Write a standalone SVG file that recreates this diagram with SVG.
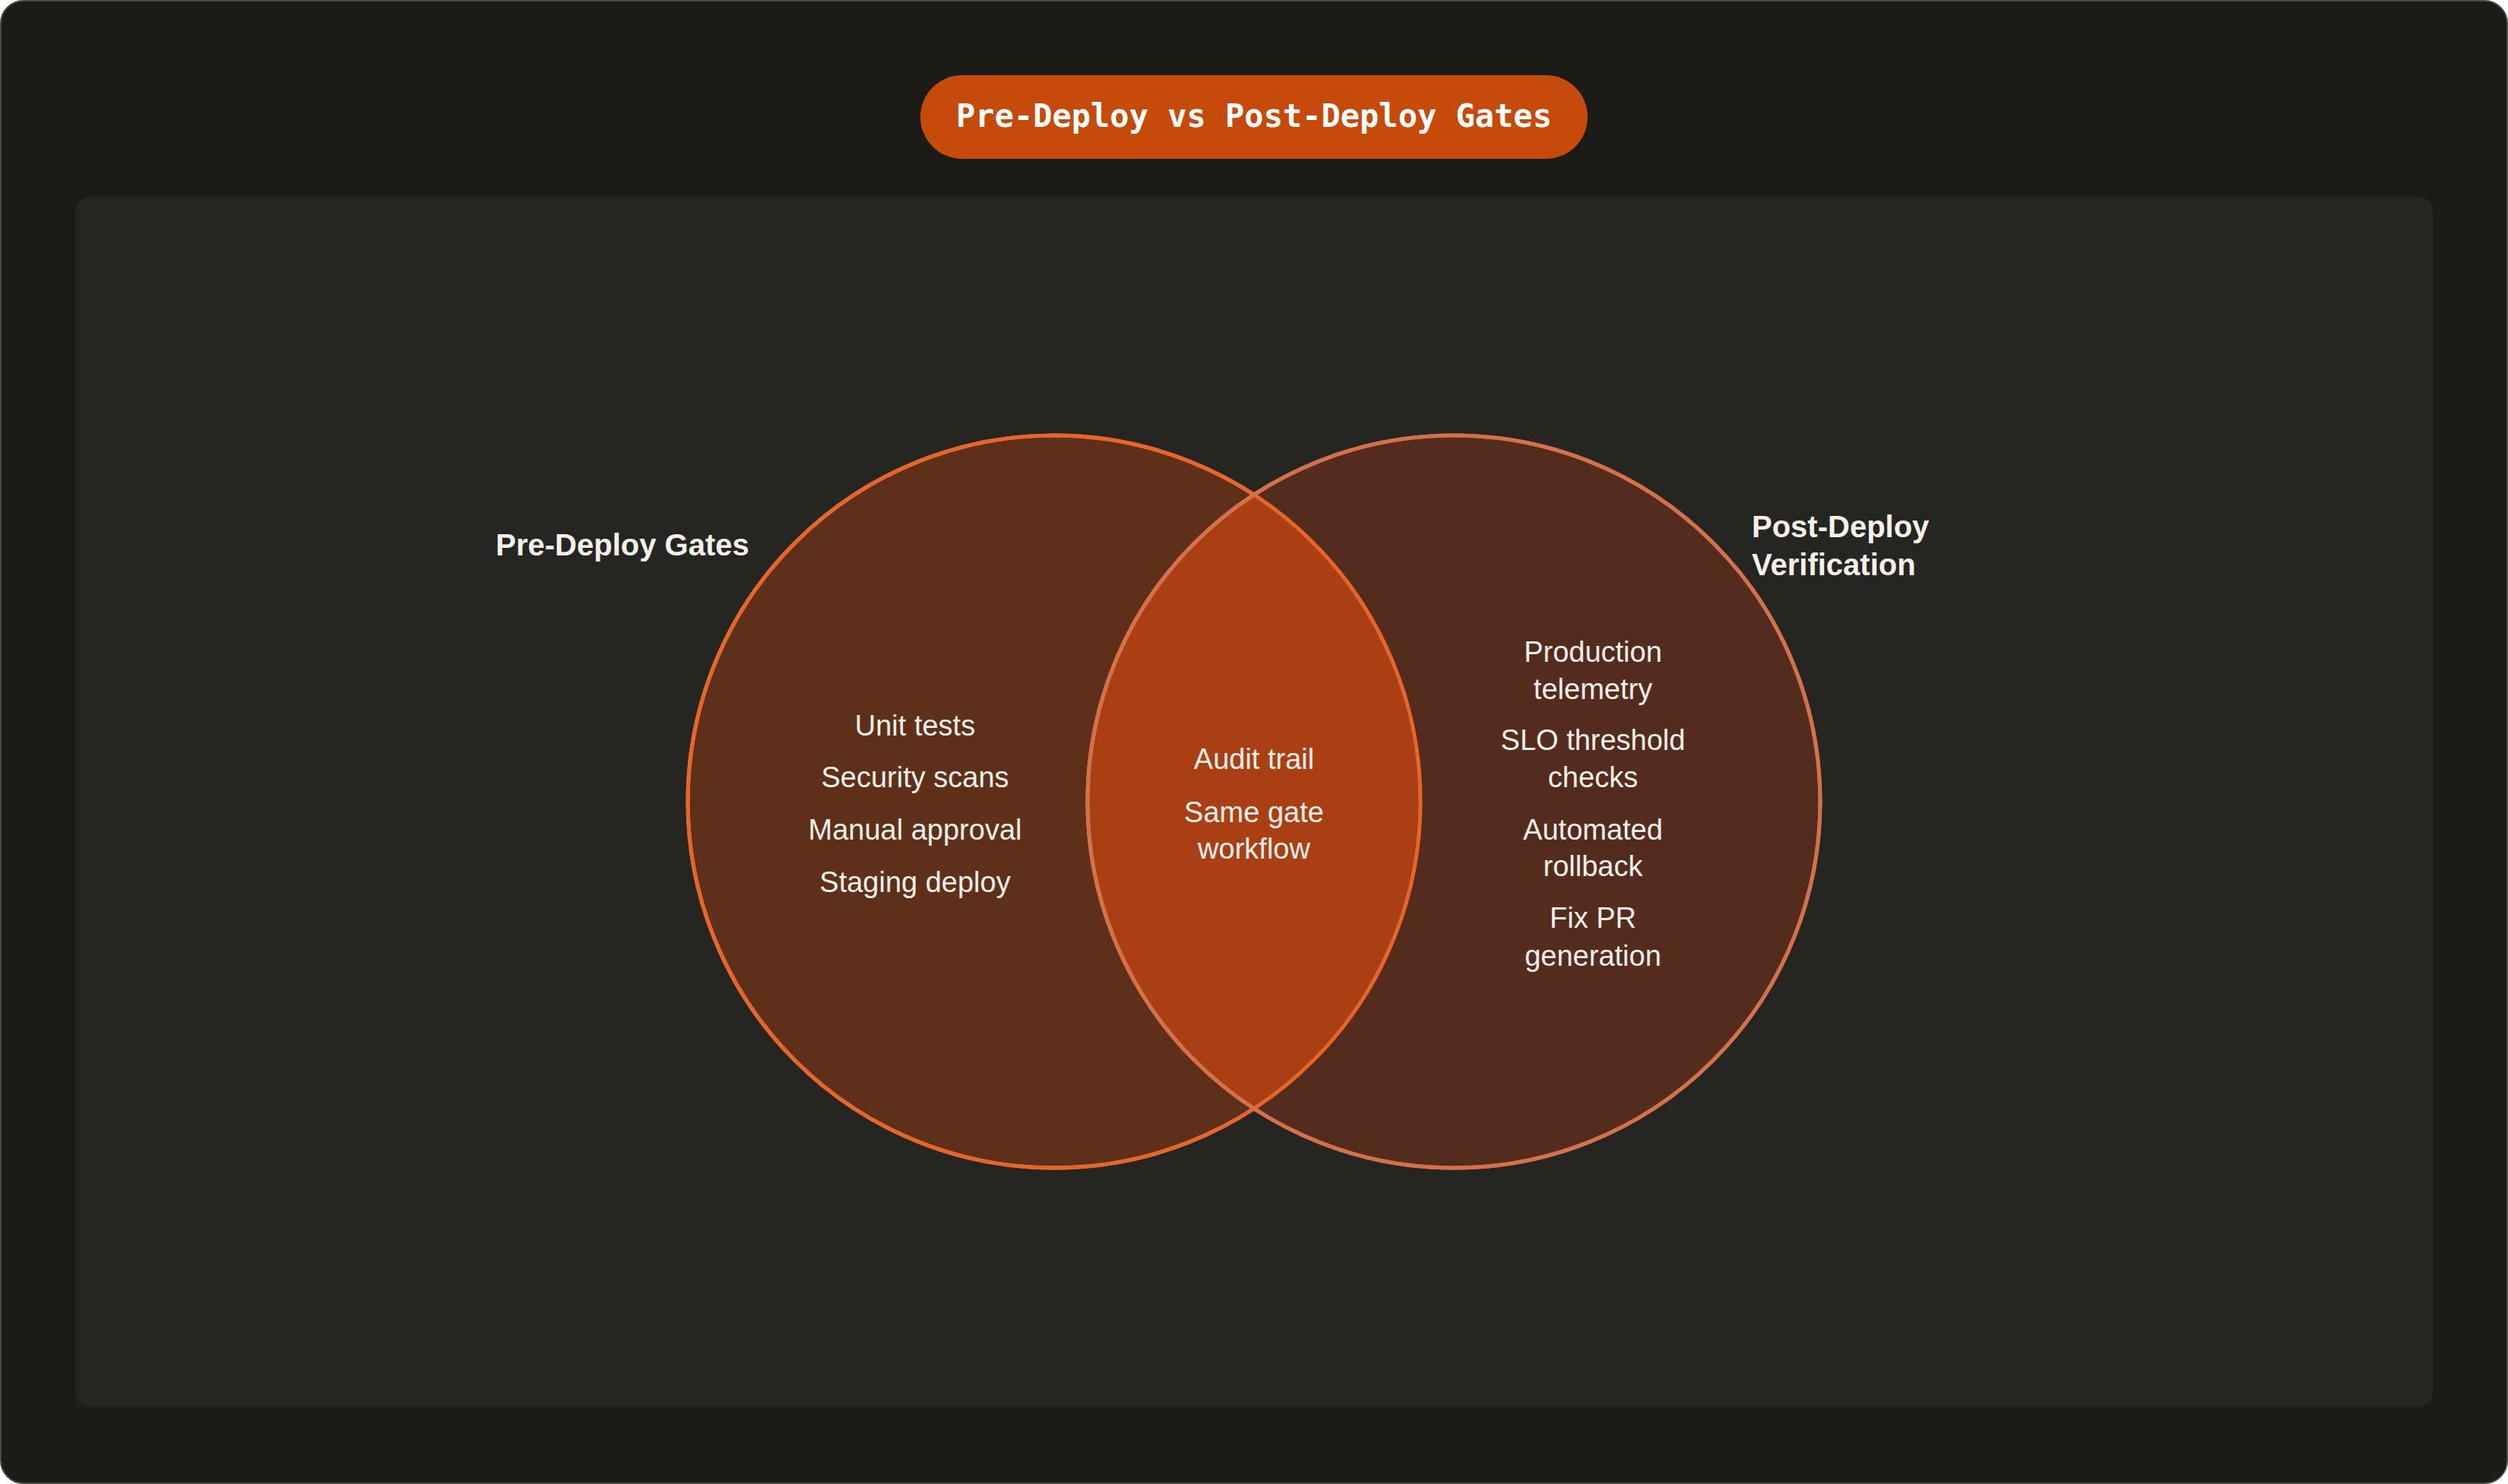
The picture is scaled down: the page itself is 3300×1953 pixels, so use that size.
<svg xmlns="http://www.w3.org/2000/svg" width="3300" height="1953" viewBox="0 0 3300 1953">
<style>
.t{font-family:"Liberation Sans",Arial,sans-serif;font-size:38px;fill:#f5f0ea;text-anchor:middle}
.h{font-family:"Liberation Sans",Arial,sans-serif;font-size:40px;font-weight:bold;fill:#f5f0ea}
</style>
<defs><clipPath id="cl"><circle cx="1387" cy="1055" r="482"/></clipPath></defs>
<rect x="1" y="1" width="3298" height="1951" rx="30" fill="#1b1b18" stroke="#4a4a46" stroke-width="2"/>
<rect x="99" y="259" width="3102" height="1593" rx="20" fill="#252622"/>
<g id="title"><rect x="1211" y="99" width="878" height="110" rx="55" fill="#c64a0a"/>
<text x="1650" y="167" font-family="DejaVu Sans Mono,monospace" font-weight="bold" font-size="42" fill="#fff" text-anchor="middle">Pre-Deploy vs Post-Deploy Gates</text></g>
<g id="pre"><circle cx="1387" cy="1055" r="482" fill="#5e3019" stroke="#f0854d" stroke-width="5"/>
<text class="h" x="819" y="731" text-anchor="middle">Pre-Deploy Gates</text>
<text class="t" x="1204" y="968">Unit tests</text><text class="t" x="1204" y="1036">Security scans</text>
<text class="t" x="1204" y="1105">Manual approval</text><text class="t" x="1204" y="1174">Staging deploy</text></g>
<g id="post"><circle cx="1913" cy="1055" r="482" fill="#532c1e" stroke="#d4714a" stroke-width="5"/>
<text class="h" x="2305" y="707">Post-Deploy</text><text class="h" x="2305" y="757">Verification</text>
<text class="t" x="2096" y="871">Production</text><text class="t" x="2096" y="920">telemetry</text>
<text class="t" x="2096" y="987">SLO threshold</text><text class="t" x="2096" y="1036">checks</text>
<text class="t" x="2096" y="1105">Automated</text><text class="t" x="2096" y="1153">rollback</text>
<text class="t" x="2096" y="1221">Fix PR</text><text class="t" x="2096" y="1271">generation</text></g>
<g id="both"><circle cx="1913" cy="1055" r="482" fill="#a93f12" clip-path="url(#cl)"/>
<circle cx="1913" cy="1055" r="482" fill="none" stroke="#d4714a" stroke-width="5" clip-path="url(#cl)"/>
<circle cx="1387" cy="1055" r="482" fill="none" stroke="#e8652a" stroke-width="5"/>
<circle cx="1913" cy="1055" r="482" fill="none" stroke="#d4714a" stroke-width="5"/>
<text class="t" x="1650" y="1012">Audit trail</text><text class="t" x="1650" y="1082">Same gate</text><text class="t" x="1650" y="1130">workflow</text></g>
<g id="connectors"/>
</svg>
